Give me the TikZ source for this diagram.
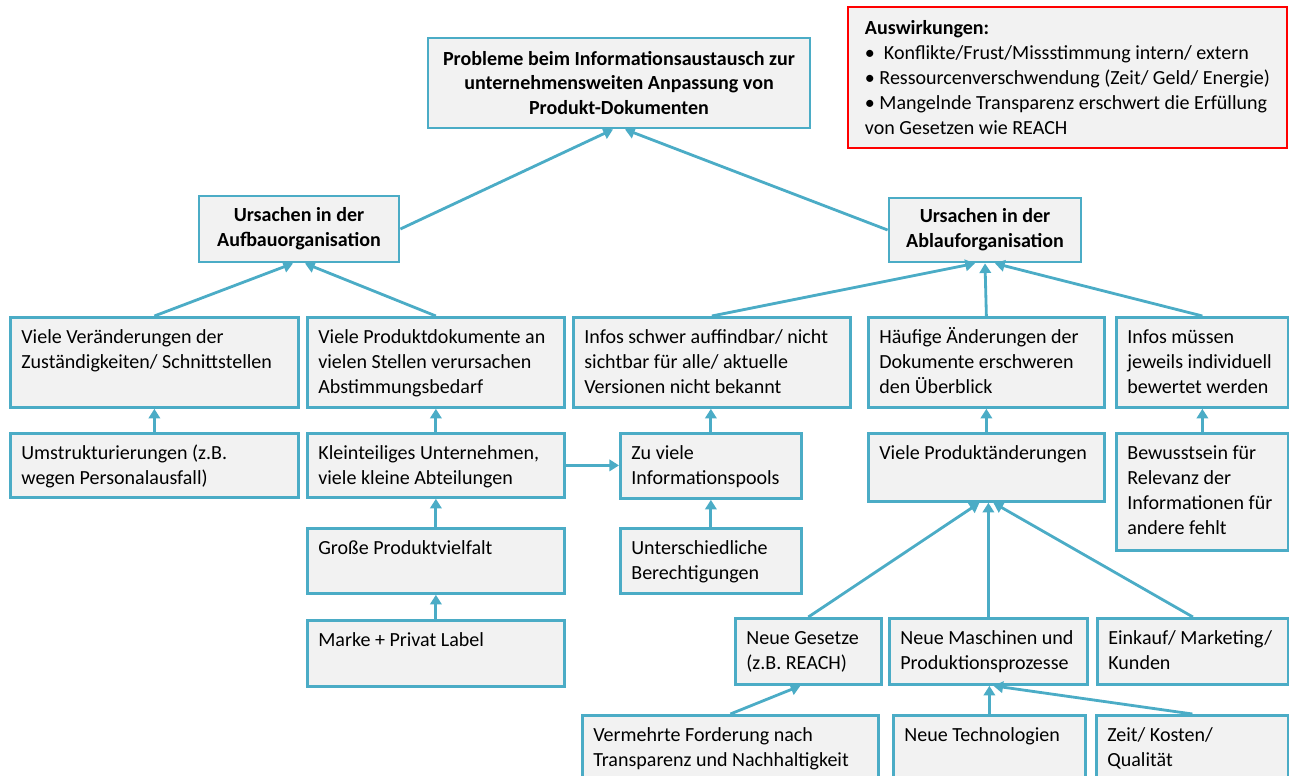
\documentclass[tikz,border=0pt]{standalone}
\usepackage{fontspec}
\setmainfont{Carlito}
\usepackage{tikz}
\usetikzlibrary{arrows.meta,positioning,calc}
\definecolor{boxline}{HTML}{4BACC6}
\definecolor{boxfill}{HTML}{F2F2F2}
\definecolor{impact}{HTML}{FF0000}

\begin{document}
\begin{tikzpicture}[
    x=0.02cm, y=-0.02cm,
    box/.style={rectangle, draw=boxline, fill=boxfill, line width=1.6pt, anchor=north west, inner sep=0pt},
    txt/.style={anchor=north west, align=flush left, text width=6cm, inner xsep=0.24cm, inner ysep=0.13cm, font=\fontsize{11.4pt}{14.2pt}\selectfont, execute at begin node={\rule{0pt}{12pt}}},
    head/.style={rectangle, draw=boxline, fill=boxfill, line width=1.6pt, align=center, font=\fontsize{11.4pt}{14.2pt}\selectfont\bfseries},
    note/.style={rectangle, draw=impact, fill=boxfill, line width=1.6pt, align=left, minimum width=8.78cm, minimum height=2.82cm, font=\fontsize{11.4pt}{14.2pt}\selectfont},
    arrow/.style={-{Triangle[length=5.5pt,width=6.5pt]}, draw=boxline, line width=1.6pt}
  ]
    \useasboundingbox (0,0) rectangle (1289,776);

    \node[head, minimum width=7.64cm, minimum height=1.8cm] (top) at (619,83) {Probleme beim Informationsaustausch zur\\unternehmensweiten Anpassung von\\Produkt-Dokumenten};
    \node[note] (impact) at (1067.5,77.5) {\textbf{Auswirkungen:}\\•\ \ Konflikte/Frust/Missstimmung intern/ extern\\• Ressourcenverschwendung (Zeit/ Geld/ Energie)\\• Mangelnde Transparenz erschwert die Erfüllung\\von Gesetzen wie REACH};
    \node[head, minimum width=4cm, minimum height=1.32cm] (aufbau) at (299,229) {Ursachen in der\\Aufbauorganisation};
    \node[head, minimum width=3.84cm, minimum height=1.28cm] (ablauf) at (985,230) {Ursachen in der\\Ablauforganisation};

    \node[box, minimum width=5.76cm, minimum height=1.8cm, label={[txt]north west:{Viele Veränderungen der\\Zuständigkeiten/ Schnittstellen}}] (a1) at (9,316) {};
    \node[box, minimum width=5.14cm, minimum height=1.8cm, label={[txt]north west:{Viele Produktdokumente an\\vielen Stellen verursachen\\Abstimmungsbedarf}}] (a2) at (306,316) {};
    \node[box, minimum width=5.54cm, minimum height=1.8cm, label={[txt]north west:{Infos schwer auffindbar/ nicht\\sichtbar für alle/ aktuelle\\Versionen nicht bekannt}}] (a3) at (572,316) {};
    \node[box, minimum width=4.72cm, minimum height=1.8cm, label={[txt]north west:{Häufige Änderungen der\\Dokumente erschweren\\den Überblick}}] (a4) at (867,316) {};
    \node[box, minimum width=3.44cm, minimum height=1.8cm, label={[txt]north west:{Infos müssen\\jeweils individuell\\bewertet werden}}] (a5) at (1115,316) {};

    \node[box, minimum width=5.76cm, minimum height=1.28cm, label={[txt]north west:{Umstrukturierungen (z.B.\\wegen Personalausfall)}}] (b1) at (9,432) {};
    \node[box, minimum width=5.14cm, minimum height=1.28cm, label={[txt]north west:{Kleinteiliges Unternehmen,\\viele kleine Abteilungen}}] (b2) at (306,432) {};
    \node[box, minimum width=3.62cm, minimum height=1.3cm, label={[txt]north west:{Zu viele\\Informationspools}}] (b3) at (619,432) {};
    \node[box, minimum width=4.72cm, minimum height=1.36cm, label={[txt]north west:{Viele Produktänderungen}}] (b4) at (867,432) {};
    \node[box, minimum width=3.44cm, minimum height=2.34cm, label={[txt]north west:{Bewusstsein für\\Relevanz der\\Informationen für\\andere fehlt}}] (b5) at (1115,432) {};

    \node[box, minimum width=5.14cm, minimum height=1.3cm, label={[txt]north west:{Große Produktvielfalt}}] (c2) at (306,527) {};
    \node[box, minimum width=3.62cm, minimum height=1.3cm, label={[txt]north west:{Unterschiedliche\\Berechtigungen}}] (c3) at (619,527) {};

    \node[box, minimum width=5.14cm, minimum height=1.32cm, label={[txt]north west:{Marke + Privat Label}}] (d2) at (306,619) {};
    \node[box, minimum width=2.92cm, minimum height=1.32cm, label={[txt]north west:{Neue Gesetze\\(z.B. REACH)}}] (d3) at (734,617) {};
    \node[box, minimum width=3.96cm, minimum height=1.32cm, label={[txt]north west:{Neue Maschinen und\\Produktionsprozesse}}] (d4) at (888,617) {};
    \node[box, minimum width=3.82cm, minimum height=1.32cm, label={[txt]north west:{Einkauf/ Marketing/\\Kunden}}] (d5) at (1096,617) {};

    \node[box, minimum width=5.92cm, minimum height=1.6cm, label={[txt]north west:{Vermehrte Forderung nach\\Transparenz und Nachhaltigkeit}}] (e3) at (581,714) {};
    \node[box, minimum width=3.84cm, minimum height=1.6cm, label={[txt]north west:{Neue Technologien}}] (e4) at (892,714) {};
    \node[box, minimum width=3.84cm, minimum height=1.6cm, label={[txt]north west:{Zeit/ Kosten/\\Qualität}}] (e5) at (1095,714) {};

    \draw[arrow] (aufbau.east) -- ([xshift=-0.12cm]top.south);
    \draw[arrow] (ablauf.west) -- ([xshift=0.12cm]top.south);
    \draw[arrow] (a1.north) -- ([xshift=-0.12cm]aufbau.south);
    \draw[arrow] (a2.north) -- ([xshift=0.12cm]aufbau.south);
    \draw[arrow] (a3.north) -- ([xshift=-0.2cm]ablauf.south);
    \draw[arrow] (a4.north) -- (ablauf.south);
    \draw[arrow] (a5.north) -- ([xshift=0.2cm]ablauf.south);
    \draw[arrow] (b1.north) -- (b1.north |- a1.south);
    \draw[arrow] (b2.north) -- (b2.north |- a2.south);
    \draw[arrow] (b3.north) -- (b3.north |- a3.south);
    \draw[arrow] (b4.north) -- (b4.north |- a4.south);
    \draw[arrow] (b5.north) -- (b5.north |- a5.south);
    \draw[arrow] (b2.east) -- (b2.east -| b3.west);
    \draw[arrow] (c2.north) -- (c2.north |- b2.south);
    \draw[arrow] (c3.north) -- (c3.north |- b3.south);
    \draw[arrow] (d2.north) -- (d2.north |- c2.south);
    \draw[arrow] (d3.north) -- ([xshift=-0.14cm]b4.south);
    \draw[arrow] (d4.north) -- (d4.north |- b4.south);
    \draw[arrow] (d5.north) -- ([xshift=0.14cm]b4.south);
    \draw[arrow] (e3.north) -- ([xshift=-0.16cm]d3.south);
    \draw[arrow] (e4.north) -- (e4.north |- d4.south);
    \draw[arrow] (e5.north) -- ([xshift=0.1cm]d4.south);
  \end{tikzpicture}
\end{document}
